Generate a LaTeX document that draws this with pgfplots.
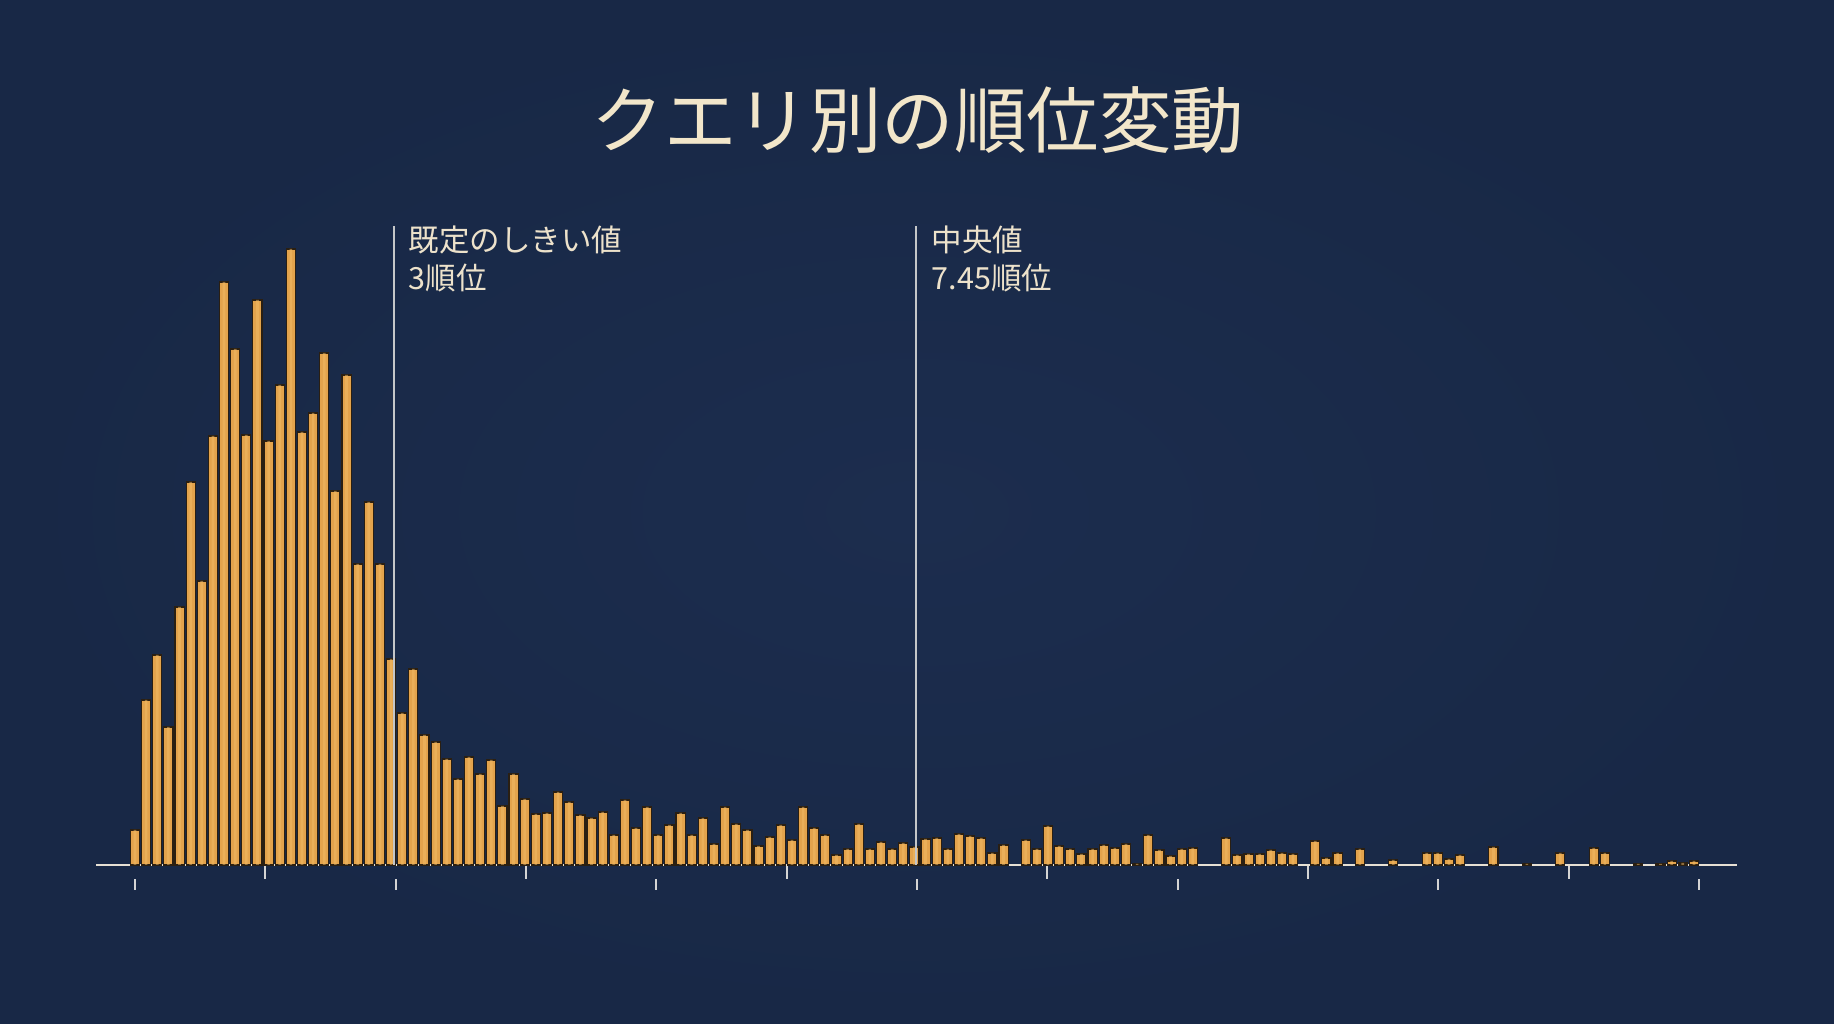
\documentclass[border=0pt]{standalone}
\usepackage{pgfplots}
\pgfplotsset{compat=1.18}
\usepackage{pgfplotstable}
\usepackage{fontspec}
\newfontfamily\jp{Noto Sans CJK JP}
\definecolor{bgin}{HTML}{1C2D4E}
\definecolor{bgout}{HTML}{182846}
\definecolor{titlecol}{HTML}{F2E6CA}
\definecolor{anncol}{HTML}{EDE2CB}
\definecolor{barcol}{HTML}{E3A34C}
\definecolor{barhi}{HTML}{F2BB66}
\definecolor{baredge}{HTML}{2A1F12}
\definecolor{linecol}{HTML}{C4C6C8}
\definecolor{axiscol}{HTML}{E6E0D4}
\definecolor{tickcol}{HTML}{D4D4D4}
\pgfplotstableread{
i h
0 35
1 165
2 210
3 138
4 258
5 383
6 284
7 429
8 583
9 516
10 430
11 565
12 424
13 480
14 616
15 433
16 452
17 512
18 374
19 490
20 301
21 363
22 301
23 206
24 152
25 196
26 130
27 123
28 106
29 86
30 108
31 91
32 105
33 59
34 91
35 66
36 51
37 52
38 73
39 63
40 50
41 47
42 53
43 30
44 65
45 37
46 58
47 30
48 40
49 52
50 30
51 47
52 21
53 58
54 41
55 35
56 19
57 28
58 40
59 25
60 58
61 37
62 30
63 10
64 16
65 41
66 16
67 23
68 16
69 22
70 18
71 26
72 27
73 16
74 31
75 29
76 27
77 12
78 20
79 0
80 25
81 16
82 39
83 19
84 16
85 11
86 16
87 20
88 17
89 21
90 1
91 30
92 15
93 9
94 16
95 17
96 0
97 0
98 27
99 10
100 11
101 11
102 15
103 12
104 11
105 0
106 24
107 7
108 12
109 0
110 16
111 0
112 0
113 5
114 0
115 0
116 12
117 12
118 6
119 10
120 0
121 0
122 18
123 0
124 0
125 1
126 0
127 0
128 12
129 0
130 0
131 17
132 12
133 0
134 0
135 1
136 0
137 1
138 4
139 2
140 4
}\hist
\begin{document}
\begin{tikzpicture}
\useasboundingbox (0,0) rectangle (733.6pt,409.6pt);
\shade[inner color=bgin, outer color=bgout] (0,0) rectangle (733.6pt,409.6pt);
\node[text=titlecol, font=\jp\fontsize{29}{34}\selectfont, inner sep=0pt] at (367.2pt,361.6pt) {クエリ別の順位変動};
\begin{axis}[
  at={(38.4pt,63.6pt)}, anchor=south west,
  scale only axis, width=656.4pt, height=256pt,
  xmin=-3.5, xmax=143.87, ymin=0, ymax=640,
  axis x line*=bottom, axis y line=none,
  x axis line style={-, draw=axiscol, line width=0.8pt},
  ytick=\empty,
  xtick={11.705,35.115,58.525,81.935,105.345,128.755},
  xticklabels={},
  tick align=outside,
  major tick length=5.6pt,
  x tick style={draw=tickcol, line width=0.7pt},
  extra x ticks={0,23.41,46.82,70.23,93.64,117.05,140.46},
  extra x tick labels={},
  extra x tick style={major tick length=4.4pt, tick style={yshift=-5.6pt, draw=tickcol, line width=0.7pt}},
  clip=false,
]
\addplot[ybar, bar width=0.82, bar shift=0pt, fill=barcol, draw=baredge, line width=0.45pt, restrict y to domain=0.5:1000] table[x=i,y=h]{\hist};
\addplot[ybar, bar width=0.24, bar shift=0pt, fill=barhi, draw=none, fill opacity=0.5, restrict y to domain=0.5:1000] table[x=i,y=h]{\hist};
\addplot[sharp plot, draw=linecol, line width=0.6pt] coordinates {(23.26,0) (23.26,639)};
\addplot[sharp plot, draw=linecol, line width=0.6pt] coordinates {(70.14,0) (70.14,639)};
\node[anchor=base west, inner sep=0pt, text=anncol, font=\jp\fontsize{12.2}{14}\selectfont] at (axis cs:24.56,613) {既定のしきい値};
\node[anchor=base west, inner sep=0pt, text=anncol, font=\jp\fontsize{12.2}{14}\selectfont] at (axis cs:24.56,575.6) {3順位};
\node[anchor=base west, inner sep=0pt, text=anncol, font=\jp\fontsize{12.2}{14}\selectfont] at (axis cs:71.53,613) {中央値};
\node[anchor=base west, inner sep=0pt, text=anncol, font=\jp\fontsize{12.2}{14}\selectfont] at (axis cs:71.53,575.6) {7.45順位};
\end{axis}
\end{tikzpicture}
\end{document}
